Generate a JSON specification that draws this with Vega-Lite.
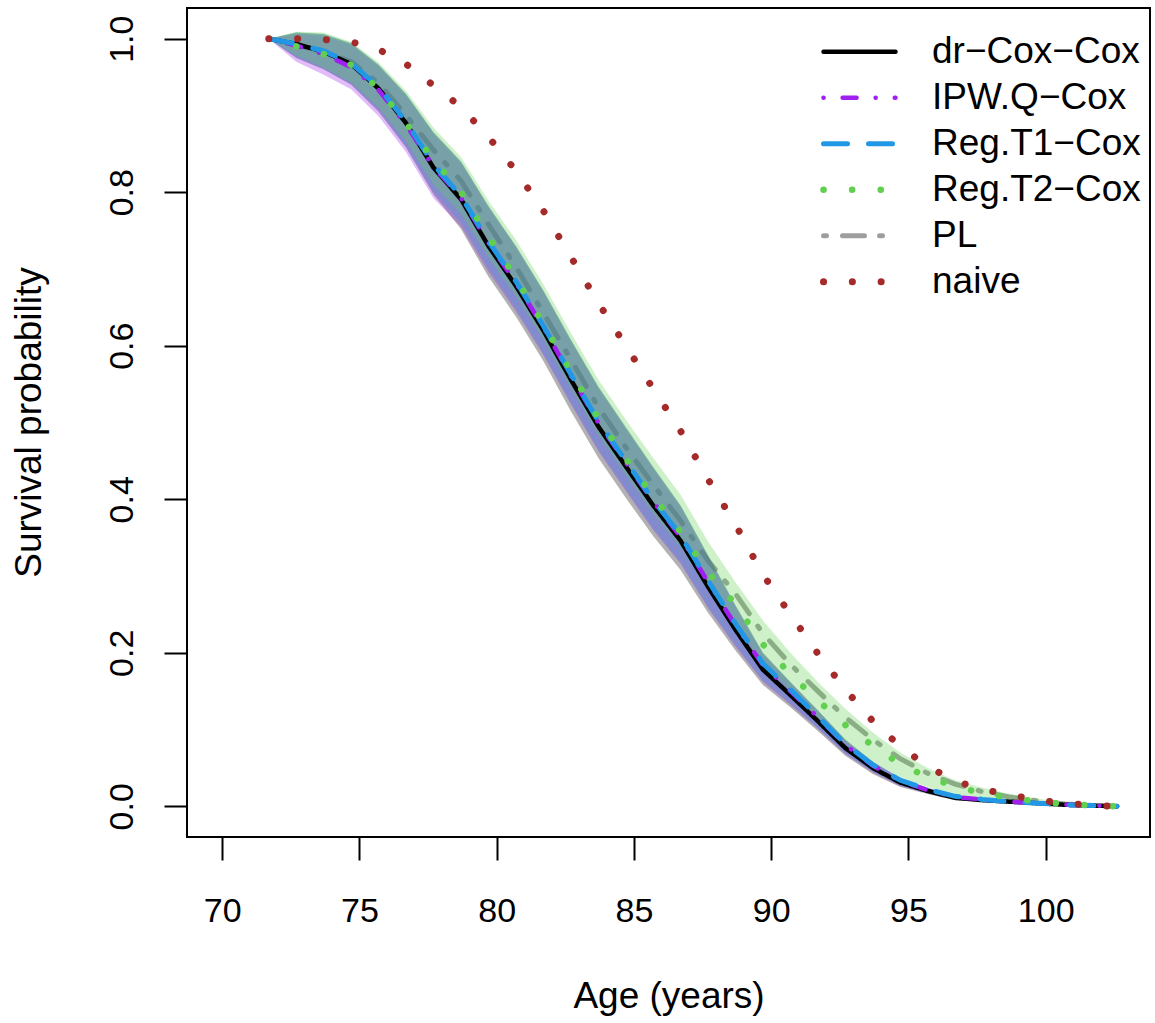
{
  "$schema": "https://vega.github.io/schema/vega-lite/v6.json",
  "width": 963,
  "height": 829,
  "autosize": {"type": "none"},
  "padding": {"left": 187, "top": 8, "right": 5, "bottom": 186},
  "background": "white",
  "config": {
    "font": "Liberation Sans",
    "view": {"stroke": "black", "strokeWidth": 2},
    "axis": {"grid": false, "domain": false, "tickColor": "black", "tickWidth": 2, "tickSize": 23, "labelColor": "black", "labelFont": "Liberation Sans", "labelFontSize": 34, "titleFont": "Liberation Sans", "titleFontSize": 37, "titleFontWeight": "normal", "titleColor": "black"}
  },
  "datasets": {
    "curves": [
      {"age":71.7,"method":"dr−Cox−Cox","S":1.000},{"age":72.7,"method":"dr−Cox−Cox","S":0.993},{"age":73.7,"method":"dr−Cox−Cox","S":0.983},{"age":74.7,"method":"dr−Cox−Cox","S":0.967},{"age":75.7,"method":"dr−Cox−Cox","S":0.935},{"age":76.7,"method":"dr−Cox−Cox","S":0.890},{"age":77.7,"method":"dr−Cox−Cox","S":0.832},{"age":78.7,"method":"dr−Cox−Cox","S":0.791},{"age":79.7,"method":"dr−Cox−Cox","S":0.730},{"age":80.7,"method":"dr−Cox−Cox","S":0.678},{"age":81.7,"method":"dr−Cox−Cox","S":0.620},{"age":82.7,"method":"dr−Cox−Cox","S":0.556},{"age":83.7,"method":"dr−Cox−Cox","S":0.495},{"age":84.7,"method":"dr−Cox−Cox","S":0.443},{"age":85.7,"method":"dr−Cox−Cox","S":0.392},{"age":86.7,"method":"dr−Cox−Cox","S":0.346},{"age":87.7,"method":"dr−Cox−Cox","S":0.286},{"age":88.7,"method":"dr−Cox−Cox","S":0.230},{"age":89.7,"method":"dr−Cox−Cox","S":0.178},{"age":90.7,"method":"dr−Cox−Cox","S":0.145},{"age":91.7,"method":"dr−Cox−Cox","S":0.111},{"age":92.7,"method":"dr−Cox−Cox","S":0.076},{"age":93.7,"method":"dr−Cox−Cox","S":0.050},{"age":94.7,"method":"dr−Cox−Cox","S":0.031},{"age":95.7,"method":"dr−Cox−Cox","S":0.020},{"age":96.7,"method":"dr−Cox−Cox","S":0.011},{"age":97.7,"method":"dr−Cox−Cox","S":0.008},{"age":98.7,"method":"dr−Cox−Cox","S":0.006},{"age":99.7,"method":"dr−Cox−Cox","S":0.004},{"age":100.7,"method":"dr−Cox−Cox","S":0.002},{"age":101.7,"method":"dr−Cox−Cox","S":0.001},{"age":102.6,"method":"dr−Cox−Cox","S":0.000},
      {"age":71.7,"method":"IPW.Q−Cox","S":1.000},{"age":72.7,"method":"IPW.Q−Cox","S":0.991},{"age":73.7,"method":"IPW.Q−Cox","S":0.980},{"age":74.7,"method":"IPW.Q−Cox","S":0.963},{"age":75.7,"method":"IPW.Q−Cox","S":0.933},{"age":76.7,"method":"IPW.Q−Cox","S":0.888},{"age":77.7,"method":"IPW.Q−Cox","S":0.833},{"age":78.7,"method":"IPW.Q−Cox","S":0.793},{"age":79.7,"method":"IPW.Q−Cox","S":0.734},{"age":80.7,"method":"IPW.Q−Cox","S":0.682},{"age":81.7,"method":"IPW.Q−Cox","S":0.624},{"age":82.7,"method":"IPW.Q−Cox","S":0.561},{"age":83.7,"method":"IPW.Q−Cox","S":0.500},{"age":84.7,"method":"IPW.Q−Cox","S":0.448},{"age":85.7,"method":"IPW.Q−Cox","S":0.397},{"age":86.7,"method":"IPW.Q−Cox","S":0.351},{"age":87.7,"method":"IPW.Q−Cox","S":0.292},{"age":88.7,"method":"IPW.Q−Cox","S":0.236},{"age":89.7,"method":"IPW.Q−Cox","S":0.184},{"age":90.7,"method":"IPW.Q−Cox","S":0.150},{"age":91.7,"method":"IPW.Q−Cox","S":0.116},{"age":92.7,"method":"IPW.Q−Cox","S":0.080},{"age":93.7,"method":"IPW.Q−Cox","S":0.053},{"age":94.7,"method":"IPW.Q−Cox","S":0.033},{"age":95.7,"method":"IPW.Q−Cox","S":0.021},{"age":96.7,"method":"IPW.Q−Cox","S":0.012},{"age":97.7,"method":"IPW.Q−Cox","S":0.009},{"age":98.7,"method":"IPW.Q−Cox","S":0.006},{"age":99.7,"method":"IPW.Q−Cox","S":0.004},{"age":100.7,"method":"IPW.Q−Cox","S":0.002},{"age":101.7,"method":"IPW.Q−Cox","S":0.001},{"age":102.6,"method":"IPW.Q−Cox","S":0.000},
      {"age":71.7,"method":"Reg.T1−Cox","S":1.000},{"age":72.7,"method":"Reg.T1−Cox","S":0.993},{"age":73.7,"method":"Reg.T1−Cox","S":0.984},{"age":74.7,"method":"Reg.T1−Cox","S":0.968},{"age":75.7,"method":"Reg.T1−Cox","S":0.937},{"age":76.7,"method":"Reg.T1−Cox","S":0.892},{"age":77.7,"method":"Reg.T1−Cox","S":0.836},{"age":78.7,"method":"Reg.T1−Cox","S":0.795},{"age":79.7,"method":"Reg.T1−Cox","S":0.736},{"age":80.7,"method":"Reg.T1−Cox","S":0.684},{"age":81.7,"method":"Reg.T1−Cox","S":0.626},{"age":82.7,"method":"Reg.T1−Cox","S":0.563},{"age":83.7,"method":"Reg.T1−Cox","S":0.502},{"age":84.7,"method":"Reg.T1−Cox","S":0.450},{"age":85.7,"method":"Reg.T1−Cox","S":0.399},{"age":86.7,"method":"Reg.T1−Cox","S":0.353},{"age":87.7,"method":"Reg.T1−Cox","S":0.294},{"age":88.7,"method":"Reg.T1−Cox","S":0.238},{"age":89.7,"method":"Reg.T1−Cox","S":0.186},{"age":90.7,"method":"Reg.T1−Cox","S":0.152},{"age":91.7,"method":"Reg.T1−Cox","S":0.117},{"age":92.7,"method":"Reg.T1−Cox","S":0.081},{"age":93.7,"method":"Reg.T1−Cox","S":0.054},{"age":94.7,"method":"Reg.T1−Cox","S":0.034},{"age":95.7,"method":"Reg.T1−Cox","S":0.022},{"age":96.7,"method":"Reg.T1−Cox","S":0.013},{"age":97.7,"method":"Reg.T1−Cox","S":0.009},{"age":98.7,"method":"Reg.T1−Cox","S":0.006},{"age":99.7,"method":"Reg.T1−Cox","S":0.004},{"age":100.7,"method":"Reg.T1−Cox","S":0.002},{"age":101.7,"method":"Reg.T1−Cox","S":0.001},{"age":102.6,"method":"Reg.T1−Cox","S":0.000},
      {"age":71.7,"method":"Reg.T2−Cox","S":1.000},{"age":72.7,"method":"Reg.T2−Cox","S":0.990},{"age":73.7,"method":"Reg.T2−Cox","S":0.980},{"age":74.7,"method":"Reg.T2−Cox","S":0.966},{"age":75.7,"method":"Reg.T2−Cox","S":0.935},{"age":76.7,"method":"Reg.T2−Cox","S":0.890},{"age":77.7,"method":"Reg.T2−Cox","S":0.842},{"age":78.7,"method":"Reg.T2−Cox","S":0.800},{"age":79.7,"method":"Reg.T2−Cox","S":0.742},{"age":80.7,"method":"Reg.T2−Cox","S":0.688},{"age":81.7,"method":"Reg.T2−Cox","S":0.628},{"age":82.7,"method":"Reg.T2−Cox","S":0.567},{"age":83.7,"method":"Reg.T2−Cox","S":0.505},{"age":84.7,"method":"Reg.T2−Cox","S":0.453},{"age":85.7,"method":"Reg.T2−Cox","S":0.404},{"age":86.7,"method":"Reg.T2−Cox","S":0.357},{"age":87.7,"method":"Reg.T2−Cox","S":0.305},{"age":88.7,"method":"Reg.T2−Cox","S":0.263},{"age":89.7,"method":"Reg.T2−Cox","S":0.211},{"age":90.7,"method":"Reg.T2−Cox","S":0.172},{"age":91.7,"method":"Reg.T2−Cox","S":0.138},{"age":92.7,"method":"Reg.T2−Cox","S":0.106},{"age":93.7,"method":"Reg.T2−Cox","S":0.079},{"age":94.7,"method":"Reg.T2−Cox","S":0.055},{"age":95.7,"method":"Reg.T2−Cox","S":0.038},{"age":96.7,"method":"Reg.T2−Cox","S":0.026},{"age":97.7,"method":"Reg.T2−Cox","S":0.017},{"age":98.7,"method":"Reg.T2−Cox","S":0.011},{"age":99.7,"method":"Reg.T2−Cox","S":0.006},{"age":100.7,"method":"Reg.T2−Cox","S":0.003},{"age":101.7,"method":"Reg.T2−Cox","S":0.001},{"age":102.6,"method":"Reg.T2−Cox","S":0.000},
      {"age":71.7,"method":"PL","S":1.000},{"age":72.7,"method":"PL","S":0.992},{"age":73.7,"method":"PL","S":0.983},{"age":74.7,"method":"PL","S":0.970},{"age":75.7,"method":"PL","S":0.942},{"age":76.7,"method":"PL","S":0.900},{"age":77.7,"method":"PL","S":0.855},{"age":78.7,"method":"PL","S":0.815},{"age":79.7,"method":"PL","S":0.758},{"age":80.7,"method":"PL","S":0.703},{"age":81.7,"method":"PL","S":0.643},{"age":82.7,"method":"PL","S":0.582},{"age":83.7,"method":"PL","S":0.520},{"age":84.7,"method":"PL","S":0.468},{"age":85.7,"method":"PL","S":0.419},{"age":86.7,"method":"PL","S":0.372},{"age":87.7,"method":"PL","S":0.320},{"age":88.7,"method":"PL","S":0.277},{"age":89.7,"method":"PL","S":0.225},{"age":90.7,"method":"PL","S":0.185},{"age":91.7,"method":"PL","S":0.150},{"age":92.7,"method":"PL","S":0.116},{"age":93.7,"method":"PL","S":0.087},{"age":94.7,"method":"PL","S":0.062},{"age":95.7,"method":"PL","S":0.043},{"age":96.7,"method":"PL","S":0.029},{"age":97.7,"method":"PL","S":0.019},{"age":98.7,"method":"PL","S":0.012},{"age":99.7,"method":"PL","S":0.007},{"age":100.7,"method":"PL","S":0.003},{"age":101.7,"method":"PL","S":0.001},{"age":102.6,"method":"PL","S":0.000},
      {"age":71.7,"method":"naive","S":1.000},{"age":72.7,"method":"naive","S":1.000},{"age":73.7,"method":"naive","S":0.999},{"age":74.7,"method":"naive","S":0.996},{"age":75.7,"method":"naive","S":0.986},{"age":76.7,"method":"naive","S":0.967},{"age":77.7,"method":"naive","S":0.939},{"age":78.7,"method":"naive","S":0.911},{"age":79.7,"method":"naive","S":0.872},{"age":80.7,"method":"naive","S":0.828},{"age":81.7,"method":"naive","S":0.776},{"age":82.7,"method":"naive","S":0.716},{"age":83.7,"method":"naive","S":0.656},{"age":84.7,"method":"naive","S":0.600},{"age":85.7,"method":"naive","S":0.544},{"age":86.7,"method":"naive","S":0.489},{"age":87.7,"method":"naive","S":0.426},{"age":88.7,"method":"naive","S":0.367},{"age":89.7,"method":"naive","S":0.302},{"age":90.7,"method":"naive","S":0.250},{"age":91.7,"method":"naive","S":0.199},{"age":92.7,"method":"naive","S":0.152},{"age":93.7,"method":"naive","S":0.111},{"age":94.7,"method":"naive","S":0.078},{"age":95.7,"method":"naive","S":0.052},{"age":96.7,"method":"naive","S":0.033},{"age":97.7,"method":"naive","S":0.022},{"age":98.7,"method":"naive","S":0.015},{"age":99.7,"method":"naive","S":0.008},{"age":100.7,"method":"naive","S":0.004},{"age":101.7,"method":"naive","S":0.001},{"age":102.6,"method":"naive","S":0.000}
    ],
    "bands": [
      {"age":71.7,"dr_lo":1.000,"dr_hi":1.000,"ipw_lo":1.000,"ipw_hi":1.000,"t1_lo":1.000,"t1_hi":1.000,"t2_lo":1.000,"t2_hi":1.000},
      {"age":72.7,"dr_lo":0.975,"dr_hi":1.008,"ipw_lo":0.970,"ipw_hi":1.006,"t1_lo":0.976,"t1_hi":1.008,"t2_lo":0.978,"t2_hi":1.009},
      {"age":73.7,"dr_lo":0.960,"dr_hi":1.006,"ipw_lo":0.953,"ipw_hi":1.004,"t1_lo":0.961,"t1_hi":1.006,"t2_lo":0.962,"t2_hi":1.008},
      {"age":74.7,"dr_lo":0.940,"dr_hi":0.994,"ipw_lo":0.934,"ipw_hi":0.992,"t1_lo":0.941,"t1_hi":0.994,"t2_lo":0.943,"t2_hi":0.996},
      {"age":75.7,"dr_lo":0.905,"dr_hi":0.966,"ipw_lo":0.899,"ipw_hi":0.964,"t1_lo":0.907,"t1_hi":0.966,"t2_lo":0.910,"t2_hi":0.969},
      {"age":76.7,"dr_lo":0.858,"dr_hi":0.928,"ipw_lo":0.852,"ipw_hi":0.926,"t1_lo":0.860,"t1_hi":0.928,"t2_lo":0.866,"t2_hi":0.932},
      {"age":77.7,"dr_lo":0.797,"dr_hi":0.878,"ipw_lo":0.792,"ipw_hi":0.876,"t1_lo":0.800,"t1_hi":0.878,"t2_lo":0.810,"t2_hi":0.884},
      {"age":78.7,"dr_lo":0.752,"dr_hi":0.840,"ipw_lo":0.755,"ipw_hi":0.838,"t1_lo":0.760,"t1_hi":0.840,"t2_lo":0.772,"t2_hi":0.846},
      {"age":79.7,"dr_lo":0.690,"dr_hi":0.782,"ipw_lo":0.696,"ipw_hi":0.780,"t1_lo":0.700,"t1_hi":0.782,"t2_lo":0.715,"t2_hi":0.789},
      {"age":80.7,"dr_lo":0.638,"dr_hi":0.730,"ipw_lo":0.645,"ipw_hi":0.728,"t1_lo":0.648,"t1_hi":0.730,"t2_lo":0.665,"t2_hi":0.738},
      {"age":81.7,"dr_lo":0.580,"dr_hi":0.672,"ipw_lo":0.588,"ipw_hi":0.670,"t1_lo":0.590,"t1_hi":0.672,"t2_lo":0.608,"t2_hi":0.680},
      {"age":82.7,"dr_lo":0.515,"dr_hi":0.608,"ipw_lo":0.524,"ipw_hi":0.606,"t1_lo":0.526,"t1_hi":0.608,"t2_lo":0.545,"t2_hi":0.617},
      {"age":83.7,"dr_lo":0.454,"dr_hi":0.547,"ipw_lo":0.463,"ipw_hi":0.545,"t1_lo":0.465,"t1_hi":0.547,"t2_lo":0.484,"t2_hi":0.556},
      {"age":84.7,"dr_lo":0.402,"dr_hi":0.494,"ipw_lo":0.411,"ipw_hi":0.492,"t1_lo":0.413,"t1_hi":0.494,"t2_lo":0.432,"t2_hi":0.504},
      {"age":85.7,"dr_lo":0.352,"dr_hi":0.442,"ipw_lo":0.360,"ipw_hi":0.440,"t1_lo":0.362,"t1_hi":0.442,"t2_lo":0.382,"t2_hi":0.454},
      {"age":86.7,"dr_lo":0.308,"dr_hi":0.392,"ipw_lo":0.316,"ipw_hi":0.390,"t1_lo":0.318,"t1_hi":0.392,"t2_lo":0.337,"t2_hi":0.406},
      {"age":87.7,"dr_lo":0.252,"dr_hi":0.327,"ipw_lo":0.258,"ipw_hi":0.325,"t1_lo":0.260,"t1_hi":0.327,"t2_lo":0.280,"t2_hi":0.345},
      {"age":88.7,"dr_lo":0.203,"dr_hi":0.262,"ipw_lo":0.208,"ipw_hi":0.260,"t1_lo":0.210,"t1_hi":0.262,"t2_lo":0.236,"t2_hi":0.292},
      {"age":89.7,"dr_lo":0.158,"dr_hi":0.200,"ipw_lo":0.162,"ipw_hi":0.198,"t1_lo":0.164,"t1_hi":0.200,"t2_lo":0.188,"t2_hi":0.242},
      {"age":90.7,"dr_lo":0.129,"dr_hi":0.162,"ipw_lo":0.132,"ipw_hi":0.161,"t1_lo":0.134,"t1_hi":0.162,"t2_lo":0.150,"t2_hi":0.200},
      {"age":91.7,"dr_lo":0.098,"dr_hi":0.125,"ipw_lo":0.101,"ipw_hi":0.124,"t1_lo":0.102,"t1_hi":0.125,"t2_lo":0.115,"t2_hi":0.162},
      {"age":92.7,"dr_lo":0.066,"dr_hi":0.087,"ipw_lo":0.068,"ipw_hi":0.086,"t1_lo":0.069,"t1_hi":0.087,"t2_lo":0.083,"t2_hi":0.127},
      {"age":93.7,"dr_lo":0.042,"dr_hi":0.058,"ipw_lo":0.044,"ipw_hi":0.058,"t1_lo":0.045,"t1_hi":0.058,"t2_lo":0.057,"t2_hi":0.096},
      {"age":94.7,"dr_lo":0.025,"dr_hi":0.037,"ipw_lo":0.026,"ipw_hi":0.037,"t1_lo":0.027,"t1_hi":0.037,"t2_lo":0.038,"t2_hi":0.070},
      {"age":95.7,"dr_lo":0.016,"dr_hi":0.024,"ipw_lo":0.017,"ipw_hi":0.024,"t1_lo":0.017,"t1_hi":0.024,"t2_lo":0.025,"t2_hi":0.050},
      {"age":96.7,"dr_lo":0.008,"dr_hi":0.014,"ipw_lo":0.009,"ipw_hi":0.014,"t1_lo":0.009,"t1_hi":0.014,"t2_lo":0.015,"t2_hi":0.034},
      {"age":97.7,"dr_lo":0.006,"dr_hi":0.010,"ipw_lo":0.006,"ipw_hi":0.010,"t1_lo":0.006,"t1_hi":0.010,"t2_lo":0.010,"t2_hi":0.024},
      {"age":98.7,"dr_lo":0.004,"dr_hi":0.007,"ipw_lo":0.004,"ipw_hi":0.007,"t1_lo":0.004,"t1_hi":0.007,"t2_lo":0.007,"t2_hi":0.016},
      {"age":99.7,"dr_lo":0.003,"dr_hi":0.005,"ipw_lo":0.003,"ipw_hi":0.005,"t1_lo":0.003,"t1_hi":0.005,"t2_lo":0.004,"t2_hi":0.010},
      {"age":100.7,"dr_lo":0.001,"dr_hi":0.003,"ipw_lo":0.001,"ipw_hi":0.003,"t1_lo":0.001,"t1_hi":0.003,"t2_lo":0.002,"t2_hi":0.005},
      {"age":101.7,"dr_lo":0.000,"dr_hi":0.002,"ipw_lo":0.000,"ipw_hi":0.002,"t1_lo":0.000,"t1_hi":0.002,"t2_lo":0.000,"t2_hi":0.002},
      {"age":102.6,"dr_lo":0.000,"dr_hi":0.000,"ipw_lo":0.000,"ipw_hi":0.000,"t1_lo":0.000,"t1_hi":0.000,"t2_lo":0.000,"t2_hi":0.000}
    ]
  },
  "layer": [
    {
      "data": {"name": "curves"},
      "transform": [{"filter": "datum.method === 'PL'"}],
      "mark": {"type": "line", "strokeCap": "round", "strokeWidth": 5, "clip": true},
      "encoding": {
        "x": {"field": "age", "type": "quantitative", "scale": {"domain": [68.72, 103.8], "nice": false, "zero": false},
          "axis": {"values": [70, 75, 80, 85, 90, 95, 100], "title": "Age (years)", "labelBaseline": "alphabetic", "labelPadding": 61, "titleBaseline": "alphabetic", "titleY": 170}},
        "y": {"field": "S", "type": "quantitative", "scale": {"domain": [-0.04, 1.04], "nice": false, "zero": false},
          "axis": {"values": [0, 0.2, 0.4, 0.6, 0.8, 1.0], "format": ".1f", "title": "Survival probability", "labelAngle": -90, "labelAlign": "center", "labelBaseline": "alphabetic", "labelPadding": 32, "titleAngle": -90, "titleAlign": "center", "titleBaseline": "alphabetic", "titleX": -147, "titleY": 414}},
        "color": {"field": "method", "type": "nominal",
          "scale": {"domain": ["dr−Cox−Cox", "IPW.Q−Cox", "Reg.T1−Cox", "Reg.T2−Cox", "PL", "naive"], "range": ["#000000", "#A020F0", "#2297E6", "#61D04F", "#9E9E9E", "#A52A2A"]},
          "legend": {"title": null, "orient": "none", "legendX": 633, "legendY": 21, "padding": 0, "symbolType": "stroke", "symbolSize": 5184, "symbolStrokeWidth": 5.5, "labelFontSize": 37, "labelFont": "Liberation Sans", "labelColor": "black", "labelLimit": 600, "labelOffset": 33, "rowPadding": 0, "clipHeight": 45.5, "encode": {"symbols": {"update": {"strokeCap": {"value": "round"}}}}}},
        "strokeDash": {"field": "method", "type": "nominal",
          "scale": {"domain": ["dr−Cox−Cox", "IPW.Q−Cox", "Reg.T1−Cox", "Reg.T2−Cox", "PL", "naive"], "range": [[1, 0], [0.1, 19, 14, 19], [24, 21], [0.1, 28.5], [3, 16, 22, 15], [0.1, 28.7]]},
          "legend": {"title": null, "orient": "none", "legendX": 633, "legendY": 21, "padding": 0, "symbolType": "stroke", "symbolSize": 5184, "symbolStrokeWidth": 5.5, "labelFontSize": 37, "labelFont": "Liberation Sans", "labelColor": "black", "labelLimit": 600, "labelOffset": 33, "rowPadding": 0, "clipHeight": 45.5, "encode": {"symbols": {"update": {"strokeCap": {"value": "round"}}}}}}
      }
    },
    {
      "data": {"name": "bands"},
      "mark": {"type": "area", "color": "#000000", "opacity": 0.3, "clip": true},
      "encoding": {"x": {"field": "age", "type": "quantitative"}, "y": {"field": "dr_lo", "type": "quantitative"}, "y2": {"field": "dr_hi"}}
    },
    {
      "data": {"name": "bands"},
      "mark": {"type": "area", "color": "#A020F0", "opacity": 0.3, "clip": true},
      "encoding": {"x": {"field": "age", "type": "quantitative"}, "y": {"field": "ipw_lo", "type": "quantitative"}, "y2": {"field": "ipw_hi"}}
    },
    {
      "data": {"name": "bands"},
      "mark": {"type": "area", "color": "#2297E6", "opacity": 0.3, "clip": true},
      "encoding": {"x": {"field": "age", "type": "quantitative"}, "y": {"field": "t1_lo", "type": "quantitative"}, "y2": {"field": "t1_hi"}}
    },
    {
      "data": {"name": "bands"},
      "mark": {"type": "area", "color": "#61D04F", "opacity": 0.3, "clip": true},
      "encoding": {"x": {"field": "age", "type": "quantitative"}, "y": {"field": "t2_lo", "type": "quantitative"}, "y2": {"field": "t2_hi"}}
    },
    {
      "data": {"name": "curves"},
      "transform": [{"filter": "datum.method !== 'PL'"}],
      "mark": {"type": "line", "strokeCap": "round", "clip": true},
      "encoding": {
        "x": {"field": "age", "type": "quantitative"},
        "y": {"field": "S", "type": "quantitative"},
        "color": {"field": "method", "type": "nominal"},
        "strokeDash": {"field": "method", "type": "nominal"},
        "strokeWidth": {"field": "method", "type": "ordinal", "legend": null,
          "scale": {"type": "ordinal", "domain": ["dr−Cox−Cox", "IPW.Q−Cox", "Reg.T1−Cox", "Reg.T2−Cox", "PL", "naive"], "range": [4.5, 4.5, 5, 6.5, 5, 7]}}
      }
    }
  ]
}
